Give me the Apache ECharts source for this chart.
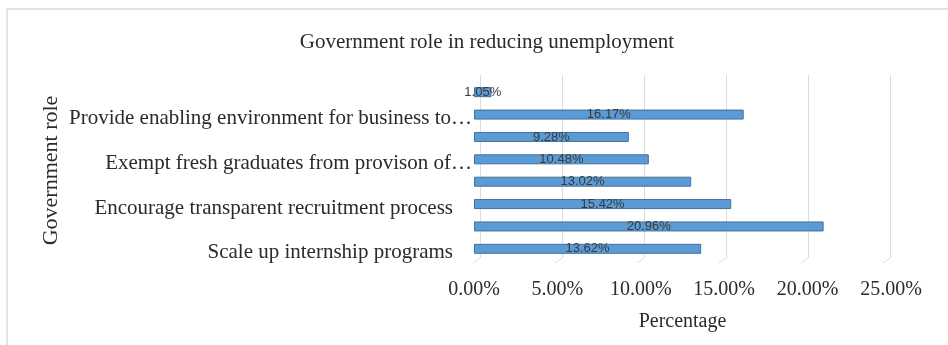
<!DOCTYPE html>
<html>
<head>
<meta charset="utf-8">
<script src="https://cdn.jsdelivr.net/npm/echarts@6/dist/echarts.min.js"></script>
<style>
  html, body { margin: 0; padding: 0; background: #ffffff; }
  #chart { width: 948px; height: 345px; }
</style>
</head>
<body>
<div id="chart"></div>
<script>
// Categories listed bottom to top; unnamed rows carry no axis label.
const roles = [
  'Scale up internship programs',
  '',
  'Encourage transparent recruitment process',
  '',
  'Exempt fresh graduates from provison of…',
  '',
  'Provide enabling environment for business to…',
  ''
];
// Share of respondents, in percent
const shares = [13.62, 20.96, 15.42, 13.02, 10.48, 9.28, 16.17, 1.05];
const pctTicks = [0, 5, 10, 15, 20, 25];

const serif = '"Liberation Serif", "Times New Roman", serif';
const ink = '#2b2b2b';
const chart = echarts.init(document.getElementById('chart'));

chart.setOption({
  backgroundColor: '#ffffff',
  animation: false,
  title: {
    text: 'Government role in reducing unemployment',
    left: 482, top: 27, textAlign: 'center',
    textStyle: { fontFamily: serif, fontSize: 21, fontWeight: 'normal', color: ink }
  },
  graphic: [{
    type: 'rect', silent: true,
    shape: { x: 7, y: 9, width: 960, height: 360 },
    style: { fill: 'none', stroke: '#e4e4e4', lineWidth: 2 }
  }],
  grid: [
    { left: 474, right: 57, top: 81, bottom: 85 },
    { left: 480, right: 58, top: 75, bottom: 87 }
  ],
  xAxis: [{
    gridIndex: 0, type: 'value',
    min: pctTicks[0], max: pctTicks[pctTicks.length - 1], interval: 5,
    name: 'Percentage', nameLocation: 'middle', nameGap: 52,
    nameTextStyle: { fontFamily: serif, fontSize: 20, color: ink },
    axisLine: { show: false }, axisTick: { show: false },
    splitLine: { show: false },
    axisLabel: {
      margin: 20, fontFamily: serif, fontSize: 20, color: ink,
      formatter: v => v.toFixed(2) + '%'
    }
  }, {
    gridIndex: 1, type: 'value',
    min: pctTicks[0], max: pctTicks[pctTicks.length - 1], interval: 5,
    axisLine: { show: false }, axisTick: { show: false }, axisLabel: { show: false },
    splitLine: { show: true, lineStyle: { color: '#dcdcdc', width: 1 } }
  }],
  yAxis: [{
    gridIndex: 0, type: 'category', data: roles,
    name: 'Government role', nameLocation: 'middle', nameRotate: 90, nameGap: 412,
    nameTextStyle: { fontFamily: serif, fontSize: 22, color: ink },
    axisLine: { show: false }, axisTick: { show: false },
    axisLabel: {
      interval: 0, margin: 2, padding: [8, 0, 0, 0],
      fontFamily: serif, fontSize: 21, color: ink,
      formatter: v => v.endsWith('…') ? v : '{p|' + v + '}',
      rich: { p: { fontFamily: serif, fontSize: 21, color: ink, padding: [0, 19, 0, 0] } }
    }
  }, {
    gridIndex: 1, type: 'category', data: roles, show: false
  }],
  series: [{
    type: 'bar', xAxisIndex: 0, yAxisIndex: 0,
    data: shares, barWidth: 10,
    itemStyle: { color: '#5b9bd5', borderColor: '#41719c', borderWidth: 1 },
    label: {
      show: true, position: 'inside',
      fontFamily: '"Liberation Sans", Arial, sans-serif', fontSize: 13, color: '#3a3a3a',
      formatter: p => p.value.toFixed(2) + '%'
    }
  }, {
    // short floor edges joining the back wall gridlines to the front plane
    type: 'custom', xAxisIndex: 1, yAxisIndex: 1, silent: true,
    data: pctTicks.map(v => [v]),
    renderItem: (params, api) => {
      const cs = params.coordSys;
      const x = api.coord([api.value(0), 0])[0];
      const yb = cs.y + cs.height;
      return {
        type: 'line',
        shape: { x1: x, y1: yb, x2: x - 7, y2: yb + 5 },
        style: { stroke: '#dcdcdc', lineWidth: 1 }
      };
    }
  }]
});
</script>
</body>
</html>
